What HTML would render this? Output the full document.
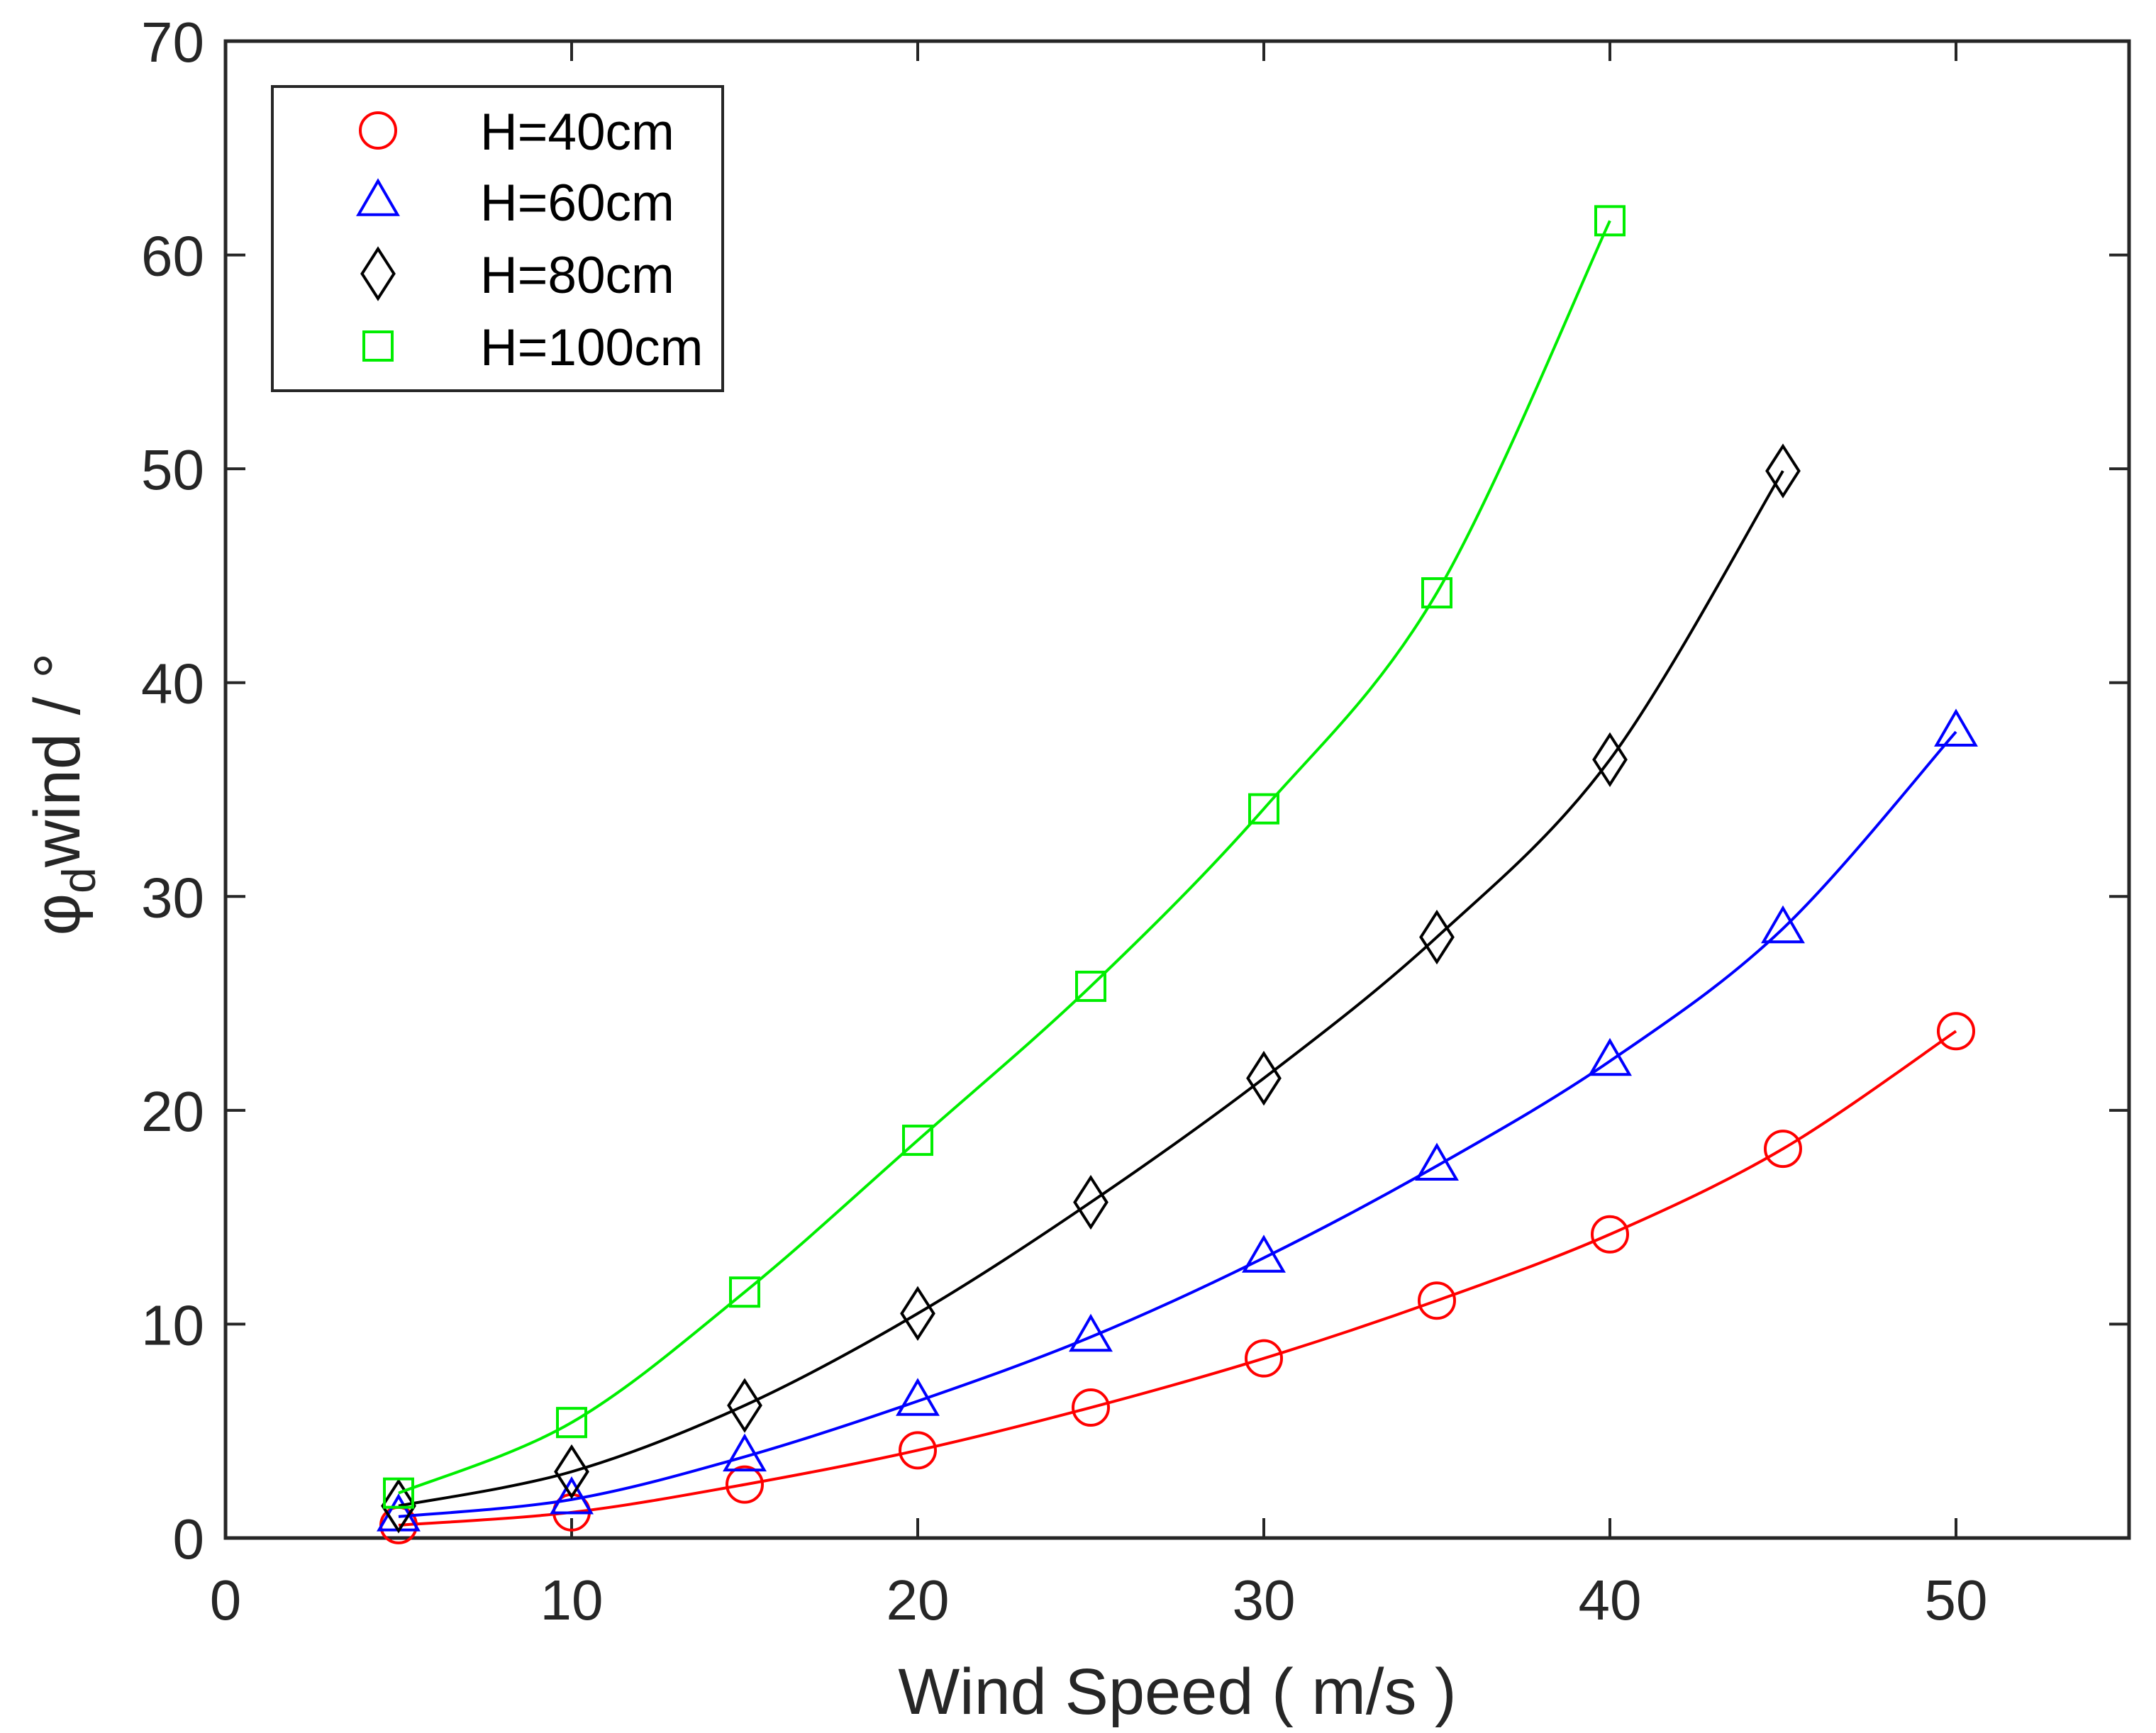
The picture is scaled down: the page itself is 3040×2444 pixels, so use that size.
<!DOCTYPE html>
<html><head><meta charset="utf-8"><style>html,body{margin:0;padding:0;background:#fff}svg{display:block}</style></head>
<body>
<svg id="chart" width="3040" height="2444" viewBox="0 0 3040 2444" xmlns="http://www.w3.org/2000/svg" font-family="'Liberation Sans', Arial, sans-serif">
<rect width="3040" height="2444" fill="#fff"/>
<g id="plot"></g>
</svg>
<script>
const xTicks = [0, 10, 20, 30, 40, 50];
const yTicks = [0, 10, 20, 30, 40, 50, 60, 70];
const xs40 = [5,10,15,20,25,30,35,40,45,50];
const ys40 = [0.6,1.2,2.5,4.1,6.1,8.4,11.1,14.2,18.2,23.7];
const xs60 = [5,10,15,20,25,30,35,40,45,50];
const ys60 = [1.0,1.8,3.8,6.4,9.4,13.1,17.4,22.3,28.5,37.7];
const xs80 = [5,10,15,20,25,30,35,40,45];
const ys80 = [1.5,3.1,6.2,10.5,15.7,21.5,28.1,36.4,49.9];
const xs100 = [5,10,15,20,25,30,35,40];
const ys100 = [2.1,5.4,11.5,18.6,25.8,34.1,44.2,61.6];
const seriesNames = ["H=40cm","H=60cm","H=80cm","H=100cm"];

const L=318, R=3002, T=58, B=2169, XMAX=55, YMAX=70;
const X = v => L + v/XMAX*(R-L);
const Y = v => B - v/YMAX*(B-T);
const NS="http://www.w3.org/2000/svg";
const g=document.getElementById('plot');
function mk(tag, attrs, parent){const e=document.createElementNS(NS,tag);for(const k in attrs)e.setAttribute(k,attrs[k]);(parent||g).appendChild(e);return e;}

const box=mk('rect',{x:L,y:T,width:R-L,height:B-T,fill:'none',stroke:'#262626','stroke-width':5});


xTicks.forEach(v=>{
  const t=mk('path',{d:`M${X(v)},${B}V${B-28}M${X(v)},${T}V${T+28}`,stroke:'#262626','stroke-width':4});
  
  
  const l=mk('text',{x:X(v),y:B+115,'font-size':80,'text-anchor':'middle',fill:'#262626'});
  l.textContent=v;
  
  
});
yTicks.forEach(v=>{
  const t=mk('path',{d:`M${L},${Y(v)}H${L+28}M${R},${Y(v)}H${R-28}`,stroke:'#262626','stroke-width':4});
  
  
  const l=mk('text',{x:L-30,y:Y(v)+29,'font-size':80,'text-anchor':'end',fill:'#262626'});
  l.textContent=v;
  
  
});
const xt=mk('text',{x:1660,y:2417,'font-size':92,'text-anchor':'middle',fill:'#262626'});
xt.textContent='Wind Speed ( m/s )';


const yt=mk('text',{transform:'translate(112,1120) rotate(-90)','font-size':92,'text-anchor':'middle',fill:'#262626'});
yt.innerHTML='φ<tspan font-size="66" dy="22">d</tspan><tspan dy="-22">wind / °</tspan>';



function smooth(px,py){
  const p=px.map((x,i)=>[X(x),Y(py[i])]);
  let d=`M${p[0][0]},${p[0][1]}`;
  for(let i=0;i<p.length-1;i++){
    const p0=p[i-1]||p[i],p1=p[i],p2=p[i+1],p3=p[i+2]||p[i+1];
    const c1=[p1[0]+(p2[0]-p0[0])/6,p1[1]+(p2[1]-p0[1])/6];
    const c2=[p2[0]-(p3[0]-p1[0])/6,p2[1]-(p3[1]-p1[1])/6];
    d+=`C${c1[0]},${c1[1]} ${c2[0]},${c2[1]} ${p2[0]},${p2[1]}`;
  }
  return d;
}
function marker(type,cx,cy,color,parent){
  const s=25; let e;
  if(type==='circle') e=mk('circle',{cx,cy,r:s,fill:'none',stroke:color,'stroke-width':4},parent);
  else if(type==='tri') e=mk('path',{d:`M${cx},${cy-s*1.15}L${cx+s*1.1},${cy+s*0.75}L${cx-s*1.1},${cy+s*0.75}Z`,fill:'none',stroke:color,'stroke-width':4},parent);
  else if(type==='dia') e=mk('path',{d:`M${cx},${cy-s*1.4}L${cx+s*0.9},${cy}L${cx},${cy+s*1.4}L${cx-s*0.9},${cy}Z`,fill:'none',stroke:color,'stroke-width':4},parent);
  else e=mk('rect',{x:cx-s*0.8,y:cy-s*0.8,width:s*1.6,height:s*1.6,fill:'none',stroke:color,'stroke-width':4},parent);
  return e;
}
const series=[[xs40,ys40,'#ff0000','circle'],[xs60,ys60,'#0000ff','tri'],[xs80,ys80,'#000000','dia'],[xs100,ys100,'#00ee00','sq']];
series.forEach((s,si)=>{
  const grp=mk('g',{});
  
  
  const ln=mk('path',{d:smooth(s[0],s[1]),fill:'none',stroke:s[2],'stroke-width':4},grp);
  
  
  s[0].forEach((x,i)=>{
    const m=marker(s[3],X(x),Y(s[1][i]),s[2],grp);
    
    
  });
});
const lg=mk('g',{});


mk('rect',{x:384,y:122,width:635,height:429,fill:'#fff',stroke:'#262626','stroke-width':4},lg);
const rows=[184,284,386,488];
series.forEach((s,i)=>{
  const e=mk('g',{},lg);
  
  
  marker(s[3],533,rows[i],s[2],e);
  const t=mk('text',{x:677,y:rows[i]+27,'font-size':73,fill:'#000'},e);
  t.textContent=seriesNames[i];
});
</script>
</body></html>
